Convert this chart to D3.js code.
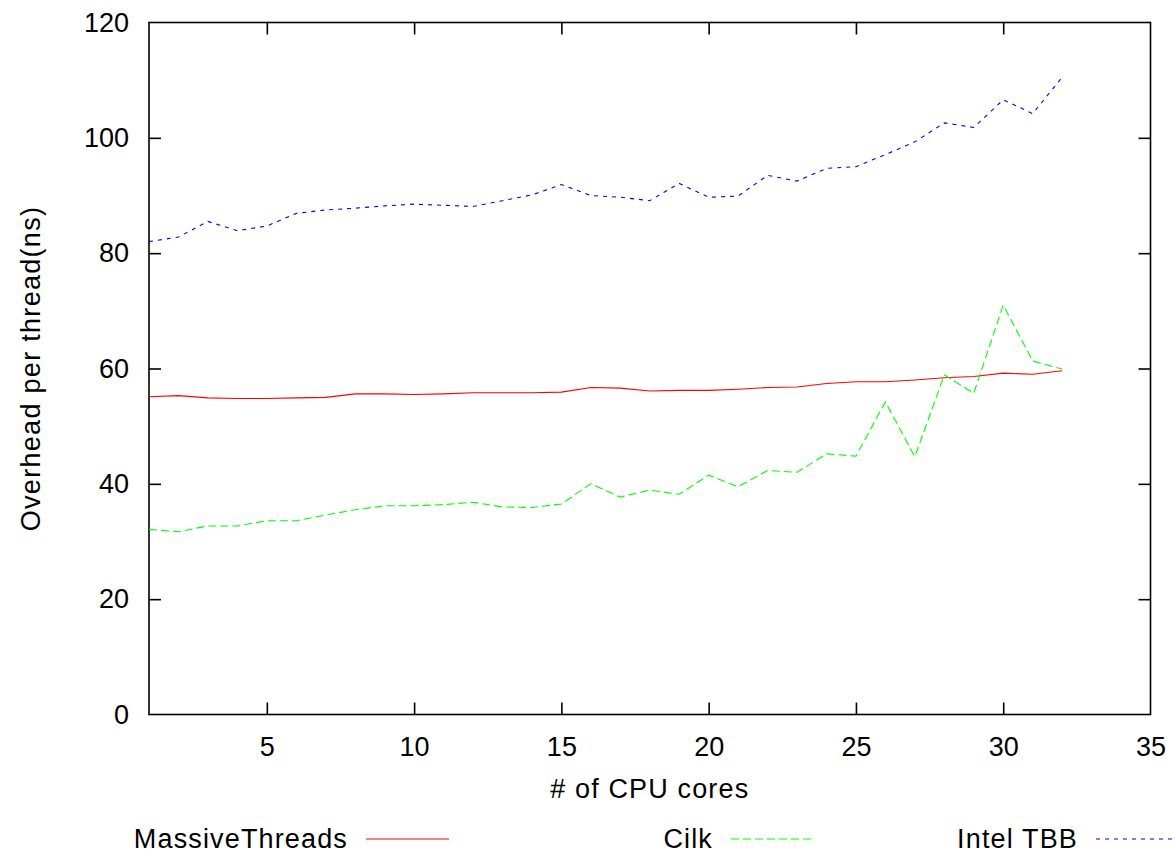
<!DOCTYPE html>
<html>
<head>
<meta charset="utf-8">
<script src="https://cdn.jsdelivr.net/npm/d3@7"></script>
<style>
  html, body { margin: 0; padding: 0; background: #fff; }
  svg { display: block; }
  text { font-family: "Liberation Sans", Arial, Helvetica, sans-serif; fill: #000; }
</style>
</head>
<body>
<svg id="chart" width="1176" height="853"></svg>
<script>
const cores = [1,2,3,4,5,6,7,8,9,10,11,12,13,14,15,16,17,18,19,20,21,22,23,24,25,26,27,28,29,30,31,32];
const massiveThreads = [55.1,55.3,54.9,54.8,54.8,54.9,55.0,55.6,55.6,55.5,55.6,55.8,55.8,55.8,55.9,56.7,56.6,56.1,56.2,56.2,56.4,56.7,56.8,57.4,57.7,57.7,58.0,58.4,58.6,59.2,59.0,59.6];
const cilk = [32.1,31.7,32.7,32.7,33.6,33.6,34.6,35.5,36.2,36.2,36.4,36.8,36.0,35.9,36.5,40.0,37.7,38.9,38.2,41.5,39.5,42.3,42.0,45.2,44.8,54.2,44.7,58.9,55.7,71.0,61.3,59.9];
const intelTBB = [82.0,82.8,85.5,83.9,84.7,86.9,87.5,87.8,88.2,88.5,88.3,88.1,89.1,90.1,91.9,90.0,89.7,89.1,92.1,89.7,89.9,93.5,92.5,94.7,95.0,97.1,99.3,102.6,101.8,106.6,104.2,110.5];
const xTicks = [5,10,15,20,25,30,35];
const yTicks = [0,20,40,60,80,100,120];
const seriesNames = ["MassiveThreads","Cilk","Intel TBB"];
const seriesColors = ["#ff0000","#00ff00","#0000ff"];
const seriesDash = [null,"8,4","4,5"];
const xTitle = "# of CPU cores";
const yTitle = "Overhead per thread(ns)";

const seriesValues = [massiveThreads, cilk, intelTBB];
const svg = d3.select("#chart");
const L = 149, R = 1150.5, T = 22.5, B = 714.5;
const FS = 27;
const LS = "1.15px";

const x = d3.scaleLinear().domain([1,35]).range([L,R]);
const y = d3.scaleLinear().domain([0,120]).range([B,T]);

// frame
svg.append("rect").attr("x",L).attr("y",T).attr("width",R-L).attr("height",B-T)
  .attr("fill","none").attr("stroke","#000").attr("stroke-width",1.6);

const tickLen = 12;
const xAxisB = d3.axisBottom(x).tickValues(xTicks).tickSize(-tickLen).tickPadding(22).tickFormat(d3.format("d"));
const gxb = svg.append("g").attr("transform",`translate(0,${B})`).call(xAxisB);
const xAxisT = d3.axisTop(x).tickValues(xTicks.filter(d=>d<35)).tickSize(-tickLen).tickFormat("");
const gxt = svg.append("g").attr("transform",`translate(0,${T})`).call(xAxisT);
const yAxisL = d3.axisLeft(y).tickValues(yTicks).tickSize(-tickLen).tickPadding(20).tickFormat(d3.format("d"));
const gyl = svg.append("g").attr("transform",`translate(${L},0)`).call(yAxisL);
const yAxisR = d3.axisRight(y).tickValues(yTicks.filter(d=>d>0 && d<120)).tickSize(-tickLen).tickFormat("");
const gyr = svg.append("g").attr("transform",`translate(${R},0)`).call(yAxisR);

[gxb,gxt,gyl,gyr].forEach(g=>{
  g.select(".domain").remove();
  g.selectAll(".tick line").attr("stroke","#000").attr("stroke-width",1.6);
  g.selectAll(".tick text").attr("font-size",FS).attr("font-family","Liberation Sans, Arial, sans-serif").attr("fill","#000");
});
gxb.selectAll(".tick").filter(d=>d===35).select("line").remove();
gyl.selectAll(".tick").filter(d=>d===0||d===120).select("line").remove();

// lines
const line = d3.line().x((d,i)=>x(cores[i])).y(d=>y(d));
seriesValues.forEach((vals,k)=>{
  const p = svg.append("path").datum(vals)
    .attr("fill","none").attr("stroke",seriesColors[k]).attr("stroke-width",1.1)
    .attr("d",line);
  if (seriesDash[k]) p.attr("stroke-dasharray",seriesDash[k]);
});

// axis titles
svg.append("text").attr("x",(L+R)/2).attr("y",798).attr("text-anchor","middle")
  .attr("font-size",FS).attr("letter-spacing",LS).text(xTitle);
svg.append("text").attr("transform",`translate(40,${(T+B)/2}) rotate(-90)`)
  .attr("text-anchor","middle").attr("font-size",FS).attr("letter-spacing","1.3px").text(yTitle);

// legend
const legendTextRight = [348, 713, 1078];
const legendY = 839;
seriesNames.forEach((name,k)=>{
  svg.append("text").attr("x",legendTextRight[k]).attr("y",legendY+9)
    .attr("text-anchor","end").attr("font-size",FS).attr("letter-spacing",LS).text(name);
  const ln = svg.append("line").attr("x1",legendTextRight[k]+18).attr("x2",legendTextRight[k]+101)
    .attr("y1",legendY).attr("y2",legendY)
    .attr("stroke",seriesColors[k]).attr("stroke-width",1.1);
  if (seriesDash[k]) ln.attr("stroke-dasharray",seriesDash[k]);
});
</script>
</body>
</html>
